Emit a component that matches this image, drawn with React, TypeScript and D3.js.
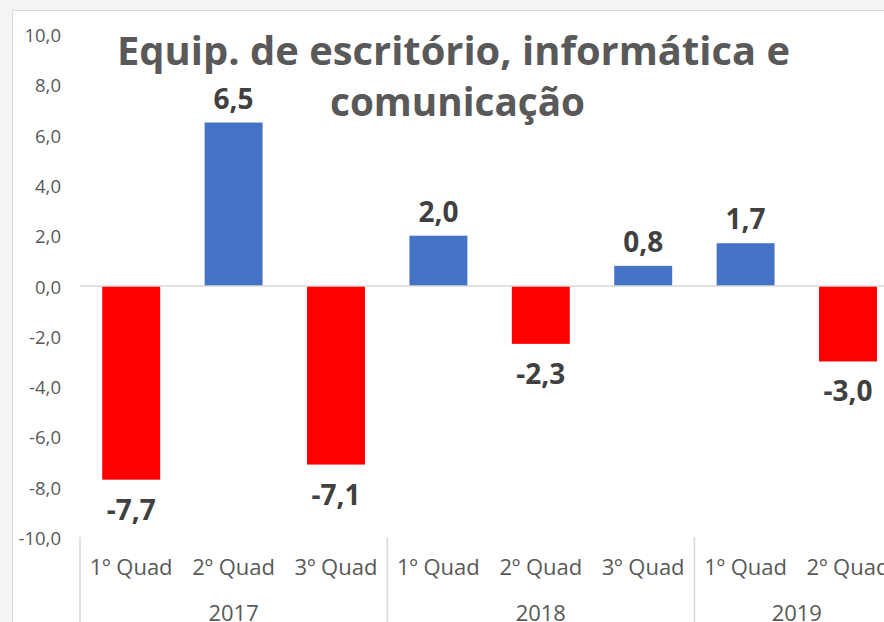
import React from "react";
import * as d3 from "d3";

const years = ["2017", "2018", "2019"];
const quadsPerYear = [3, 3, 2];
const quadLabels = ["1º Quad", "2º Quad", "3º Quad", "1º Quad", "2º Quad", "3º Quad", "1º Quad", "2º Quad"];
const values = [-7.7, 6.5, -7.1, 2.0, -2.3, 0.8, 1.7, -3.0];
const yTicks = [10, 8, 6, 4, 2, 0, -2, -4, -6, -8, -10];
const titleLines = ["Equip. de escritório, informática e", "comunicação"];

const W = 884;
const H = 622;
const fmt = (v: number) => v.toFixed(1).replace(".", ",");

export default function App() {
  const x = d3
    .scaleBand<number>()
    .domain(values.map((_, i) => i))
    .range([80, 80 + 8 * 102.4])
    .paddingInner(0.434)
    .paddingOuter(0.217);
  const y = d3.scaleLinear().domain([-10, 10]).range([537.5, 34.5]);
  const step = x.step();
  const x0 = 80;

  const bounds: number[] = [x0];
  quadsPerYear.forEach((n, i) => bounds.push(bounds[i] + n * step));

  const sans = "'Open Sans', 'Noto Sans', sans-serif";

  return (
    <svg width={W} height={H} style={{ position: "absolute", left: 0, top: 0, display: "block" }}>
      <rect x={0} y={0} width={W} height={H} fill="#f4f4f4" />
      <rect x={12.5} y={10.5} width={W} height={H} fill="#ffffff" stroke="#d9d9d9" strokeWidth={1} />

      {yTicks.map((t) => (
        <text
          key={t}
          x={61}
          y={y(t)}
          textAnchor="end"
          dominantBaseline="central"
          fontFamily={sans}
          fontSize={18.5}
          fill="#595959"
        >
          {fmt(t)}
        </text>
      ))}

      {values.map((v, i) => (
        <rect
          key={i}
          x={x(i)!}
          y={Math.min(y(v), y(0))}
          width={x.bandwidth()}
          height={Math.abs(y(v) - y(0))}
          fill={v >= 0 ? "#4472C4" : "#FF0000"}
        />
      ))}

      <line x1={x0} x2={W} y1={y(0)} y2={y(0)} stroke="#d9d9d9" strokeWidth={1.5} />

      {values.map((v, i) => (
        <text
          key={i}
          x={x(i)! + x.bandwidth() / 2}
          y={v >= 0 ? y(v) - 14 : y(v) + 40}
          textAnchor="middle"
          fontFamily={sans}
          fontWeight="bold"
          fontSize={28}
          fill="#404040"
        >
          {fmt(v)}
        </text>
      ))}

      {bounds.map((b, i) => (
        <line key={i} x1={b} x2={b} y1={537} y2={H} stroke="#d9d9d9" strokeWidth={1.5} />
      ))}

      {quadLabels.map((q, i) => (
        <text
          key={i}
          x={x(i)! + x.bandwidth() / 2}
          y={575}
          textAnchor="middle"
          fontFamily={sans}
          fontSize={22}
          fill="#595959"
        >
          {q}
        </text>
      ))}

      {years.map((yr, i) => (
        <text
          key={yr}
          x={(bounds[i] + bounds[i + 1]) / 2}
          y={621}
          textAnchor="middle"
          fontFamily={sans}
          fontSize={22}
          fill="#595959"
        >
          {yr}
        </text>
      ))}

      <text
        x={117}
        y={65}
        fontFamily={sans}
        fontWeight="bold"
        fontSize={39}
        fill="#595959"
        textLength={673}
        lengthAdjust="spacingAndGlyphs"
      >
        {titleLines[0]}
      </text>
      <text
        x={330}
        y={116}
        fontFamily={sans}
        fontWeight="bold"
        fontSize={39}
        fill="#595959"
        textLength={255}
        lengthAdjust="spacingAndGlyphs"
      >
        {titleLines[1]}
      </text>
    </svg>
  );
}
